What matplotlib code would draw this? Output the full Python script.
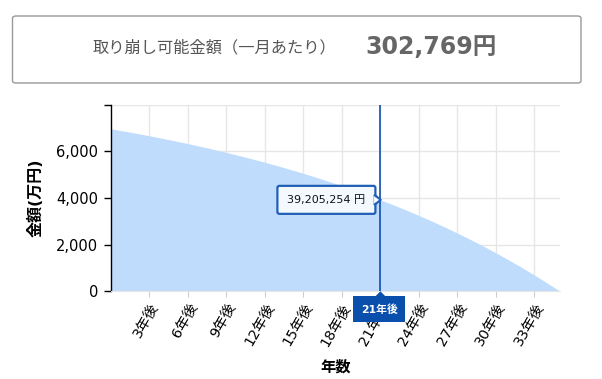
import matplotlib
matplotlib.use("Agg")
import matplotlib.pyplot as plt
import matplotlib.patches as mpatches
import matplotlib.transforms as mtransforms

plt.rcParams['font.family'] = ['DejaVu Sans', 'Noto Sans CJK JP']
CJK = ['Noto Sans CJK JP', 'DejaVu Sans']

# ---- data ----
years = list(range(36))
balance = [6965, 6870, 6770, 6666, 6559, 6447, 6331, 6210, 6085, 5954,
           5818, 5677, 5531, 5378, 5220, 5056, 4885, 4707, 4523, 4331,
           4132, 3921, 3708, 3484, 3251, 3010, 2758, 2496, 2225, 1943,
           1649, 1345, 1028, 699, 356, 0]
xtick_pos = [3, 6, 9, 12, 15, 18, 21, 24, 27, 30, 33]
xtick_labels = ['3年後', '6年後', '9年後', '12年後', '15年後', '18年後',
                '21年後', '24年後', '27年後', '30年後', '33年後']
ytick_pos = [0, 2000, 4000, 6000, 8000]
ytick_labels = ['0', '2,000', '4,000', '6,000', '']
sel_year = 21
sel_label = '21年後'
sel_value_text = '39,205,254 円'
summary_label = '取り崩し可能金額（一月あたり）'
summary_value = '302,769円'

W, H = 602, 379
fig = plt.figure(figsize=(W / 100, H / 100), dpi=100)
ax = fig.add_axes([111 / W, 1 - 291.3 / H, (560 - 111) / W, (291.3 - 104.7) / H])

ax.fill_between(years, balance, 0, color='#bfdcfd', lw=0, zorder=2)
ax.set_xlim(0, 35)
ax.set_ylim(0, 8000)

ax.set_xticks(xtick_pos)
ax.set_xticklabels(xtick_labels, rotation=60, ha='right', rotation_mode='anchor', fontsize=10.3)
ax.set_yticks(ytick_pos)
ax.set_yticklabels(ytick_labels, fontsize=10.5)
ax.tick_params(axis='x', length=4, color='#cccccc', pad=3)
ax.tick_params(axis='y', length=5, color='black', width=1, pad=4)
ax.grid(True, color='#e6e6e6', lw=1, zorder=0)
ax.set_axisbelow(True)
for s in ['top', 'right']:
    ax.spines[s].set_visible(False)
ax.spines['bottom'].set_color('#e6e6e6')
ax.spines['left'].set_color('black')
ax.spines['left'].set_linewidth(1)

ax.set_ylabel('金額(万円)', fontsize=11.5, fontweight='bold')
ax.yaxis.set_label_coords(-(111 - 44) / 449, 0.5)
ax.set_xlabel('年数', fontsize=11, fontweight='bold', family=CJK)
ax.xaxis.set_label_coords(0.5, -(359 - 291.3) / 186.6)

# selected year line
ax.axvline(sel_year, color='#0d4fae', lw=1.2, zorder=4)

fig.canvas.draw()
px, py = ax.transData.transform((sel_year, balance[sel_year]))
y0 = ax.transData.transform((0, 0))[1]
ident = mtransforms.IdentityTransform()

# tooltip
bw, bh = 98, 28
bx0 = px - 5 - bw
box = mpatches.FancyBboxPatch((bx0, py - bh / 2), bw, bh,
                              boxstyle='round,pad=0,rounding_size=2',
                              transform=ident, facecolor='#f3f9ff',
                              edgecolor='#1f5fb4', lw=1.6, zorder=6)
fig.add_artist(box)
tri = mpatches.Polygon([(px - 5.8, py + 5), (px, py), (px - 5.8, py - 5)], closed=True,
                       transform=ident, facecolor='#f3f9ff', edgecolor='#1f5fb4',
                       lw=1.6, zorder=6)
fig.add_artist(tri)
tri2 = mpatches.Polygon([(px - 6.8, py + 4), (px - 1.5, py), (px - 6.8, py - 4)], closed=True,
                        transform=ident, facecolor='#f3f9ff', edgecolor='none', zorder=7)
fig.add_artist(tri2)
fig.text((bx0 + bw / 2) / W, py / H, sel_value_text, ha='center', va='center',
         fontsize=8, color='#111111', zorder=8)

# selected x label box
lbw, lbh = 52, 26
ly_top = y0 - 5
lbox = mpatches.Rectangle((px - lbw / 2 - 1, ly_top - lbh), lbw, lbh, transform=ident,
                          facecolor='#0a4fac', edgecolor='none', zorder=9)
fig.add_artist(lbox)
ltri = mpatches.Polygon([(px - 5, ly_top), (px, ly_top + 5), (px + 5, ly_top)], closed=True,
                        transform=ident, facecolor='#0a4fac', edgecolor='none', zorder=9)
fig.add_artist(ltri)
fig.text((px - 1) / W, (ly_top - lbh / 2) / H, sel_label, ha='center', va='center',
         fontsize=7.8, color='white', fontweight='bold', zorder=10)

# summary box
sb = mpatches.FancyBboxPatch((12.5 / W, 1 - 83 / H), (581 - 12.5) / W, (83 - 16) / H,
                             boxstyle='round,pad=0,rounding_size=0.006',
                             transform=fig.transFigure, facecolor='white',
                             edgecolor='#999999', lw=1)
fig.add_artist(sb)
fig.text(214 / W, 1 - 48 / H, summary_label, ha='center', va='center',
         fontsize=11.7, color='#555555', family=CJK)
fig.text(431 / W, 1 - 46.5 / H, summary_value, ha='center', va='center',
         fontsize=17, color='#666666', fontweight='bold')

fig.savefig('out.png', dpi=100)
